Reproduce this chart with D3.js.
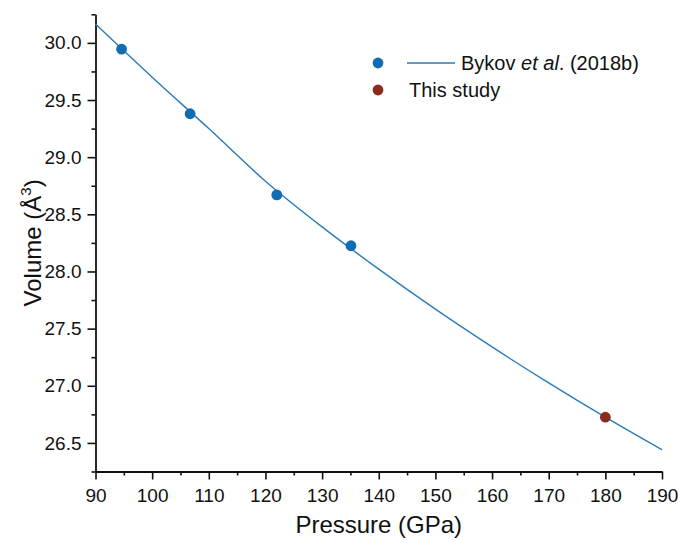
<!DOCTYPE html>
<html>
<head>
<meta charset="utf-8">
<script src="https://cdn.jsdelivr.net/npm/d3@7"></script>
<style>
  body { margin: 0; background: #fff; }
  #chart text { font-family: "Liberation Sans", Arial, sans-serif; fill: #111; }
</style>
</head>
<body>
<div id="chart"></div>
<script>
// Bykov et al. (2018b) measurements
const bykovPressure = [94.6, 106.7, 122.0, 135.1];
const bykovVolume = [29.945, 29.38, 28.67, 28.225];

// This study
const studyPressure = [180.0];
const studyVolume = [26.725];

// fitted EOS curve, every 10 GPa
const fitPressure = [90, 100, 110, 120, 130, 140, 150, 160, 170, 180, 190];
const fitVolume = [30.165, 29.70, 29.25, 28.79, 28.39, 28.02, 27.67, 27.34, 27.025, 26.725, 26.44];

const xMajor = [90, 100, 110, 120, 130, 140, 150, 160, 170, 180, 190];
const yMajor = [26.5, 27.0, 27.5, 28.0, 28.5, 29.0, 29.5, 30.0];

const W = 678, H = 540;
const plotLeft = 95.5, plotRight = 662, plotTop = 14.3, plotBottom = 471.5;

const blue = "#106db1";
const lineBlue = "#2a7bb9";
const red = "#8a2b1d";

const svg = d3.select("#chart").append("svg")
  .attr("width", W)
  .attr("height", H);

const x = d3.scaleLinear().domain([90, 190]).range([plotLeft, plotRight]);
const y = d3.scaleLinear().domain([26.25, 30.25]).range([plotBottom, plotTop]);

// minor ticks
const xMinor = d3.range(95, 190, 10);
const yMinor = d3.range(26.25, 30.26, 0.5);

svg.append("g")
  .attr("transform", `translate(0,${plotBottom})`)
  .call(d3.axisBottom(x).tickValues(xMinor).tickSize(4).tickFormat(""))
  .call(g => g.select(".domain").remove())
  .call(g => g.selectAll("line").attr("stroke", "#111").attr("stroke-width", 1.6));

svg.append("g")
  .attr("transform", `translate(${plotLeft},0)`)
  .call(d3.axisLeft(y).tickValues(yMinor).tickSize(4).tickFormat(""))
  .call(g => g.select(".domain").remove())
  .call(g => g.selectAll("line").attr("stroke", "#111").attr("stroke-width", 1.6));

// major axes
const xAxis = svg.append("g")
  .attr("transform", `translate(0,${plotBottom})`)
  .call(d3.axisBottom(x).tickValues(xMajor).tickSize(8).tickSizeOuter(0).tickPadding(9).tickFormat(d3.format("d")));

const yAxis = svg.append("g")
  .attr("transform", `translate(${plotLeft},0)`)
  .call(d3.axisLeft(y).tickValues(yMajor).tickSize(8).tickSizeOuter(0).tickPadding(6).tickFormat(d3.format(".1f")));

[xAxis, yAxis].forEach(a => {
  a.select(".domain").attr("stroke", "#111").attr("stroke-width", 1.8);
  a.selectAll(".tick line").attr("stroke", "#111").attr("stroke-width", 1.6);
  a.selectAll(".tick text").style("font-size", "19px").attr("fill", "#111");
});

// axis titles
svg.append("text")
  .attr("x", (plotLeft + plotRight) / 2)
  .attr("y", 533)
  .attr("text-anchor", "middle")
  .style("font-size", "24px")
  .text("Pressure (GPa)");

const yTitle = svg.append("text")
  .attr("transform", `translate(41,${(plotTop + plotBottom) / 2}) rotate(-90)`)
  .attr("text-anchor", "middle")
  .style("font-size", "24px");
yTitle.append("tspan").text("Volume (Å");
yTitle.append("tspan").attr("dy", -10).style("font-size", "15px").text("3");
yTitle.append("tspan").attr("dy", 10).text(")");

// fit curve
const fitData = fitPressure.map((p, i) => ({p: p, v: fitVolume[i]}));
const line = d3.line()
  .x(d => x(d.p))
  .y(d => y(d.v))
  .curve(d3.curveMonotoneX);

svg.append("path")
  .datum(fitData)
  .attr("fill", "none")
  .attr("stroke", lineBlue)
  .attr("stroke-width", 1.4)
  .attr("d", line);

// points
svg.append("g").selectAll("circle")
  .data(bykovPressure.map((p, i) => ({p: p, v: bykovVolume[i]})))
  .join("circle")
  .attr("cx", d => x(d.p))
  .attr("cy", d => y(d.v))
  .attr("r", 5.4)
  .attr("fill", blue);

svg.append("g").selectAll("circle")
  .data(studyPressure.map((p, i) => ({p: p, v: studyVolume[i]})))
  .join("circle")
  .attr("cx", d => x(d.p))
  .attr("cy", d => y(d.v))
  .attr("r", 5.4)
  .attr("fill", red);

// legend
const legend = svg.append("g");
legend.append("circle").attr("cx", 378).attr("cy", 63).attr("r", 5.4).attr("fill", blue);
legend.append("line")
  .attr("x1", 407).attr("x2", 455).attr("y1", 63).attr("y2", 63)
  .attr("stroke", lineBlue).attr("stroke-width", 1.4);
const t1 = legend.append("text").attr("x", 461).attr("y", 70).style("font-size", "20px");
t1.append("tspan").text("Bykov ");
t1.append("tspan").style("font-style", "italic").text("et al");
t1.append("tspan").text(". (2018b)");

legend.append("circle").attr("cx", 378).attr("cy", 90).attr("r", 5.4).attr("fill", red);
legend.append("text").attr("x", 409).attr("y", 97).style("font-size", "20px").text("This study");
</script>
</body>
</html>
